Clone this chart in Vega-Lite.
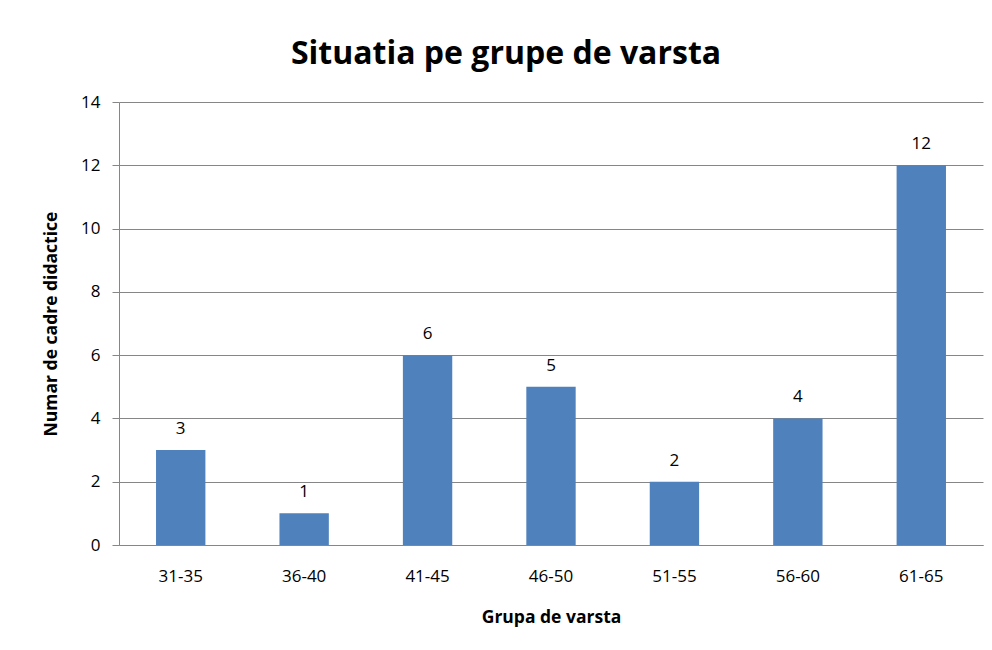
{
  "$schema": "https://vega.github.io/schema/vega-lite/v6.json",
  "autosize": {"type": "none"},
  "width": 864,
  "height": 443,
  "padding": {"left": 119, "top": 102, "right": 9, "bottom": 105},
  "background": "white",
  "title": {
    "text": "Situatia pe grupe de varsta",
    "font": "Open Sans",
    "fontSize": 32,
    "fontWeight": "bold",
    "color": "#000000",
    "anchor": "middle",
    "dx": -45,
    "offset": 22
  },
  "data": {
    "values": [
      {"grupa": "31-35", "numar": 3},
      {"grupa": "36-40", "numar": 1},
      {"grupa": "41-45", "numar": 6},
      {"grupa": "46-50", "numar": 5},
      {"grupa": "51-55", "numar": 2},
      {"grupa": "56-60", "numar": 4},
      {"grupa": "61-65", "numar": 12}
    ]
  },
  "config": {
    "view": {"stroke": null},
    "font": "Open Sans",
    "axis": {
      "labelFont": "Open Sans",
      "titleFont": "Open Sans",
      "labelFontSize": 17,
      "titleFontSize": 17.5,
      "titleFontWeight": "bold",
      "labelColor": "#000000",
      "titleColor": "#000000",
      "domainColor": "#868686",
      "tickColor": "#868686",
      "gridColor": "#868686"
    }
  },
  "layer": [
    {
      "mark": {"type": "bar", "color": "#4F81BD"},
      "encoding": {
        "x": {
          "field": "grupa",
          "type": "ordinal",
          "sort": null,
          "scale": {"paddingInner": 0.6, "paddingOuter": 0.3},
          "axis": {
            "title": "Grupa de varsta",
            "labelAngle": 0,
            "ticks": false,
            "labelPadding": 23,
            "titlePadding": 24,
            "domainWidth": 1
          }
        },
        "y": {
          "field": "numar",
          "type": "quantitative",
          "scale": {"domain": [0, 14]},
          "axis": {
            "title": "Numar de cadre didactice",
            "values": [0, 2, 4, 6, 8, 10, 12, 14],
            "tickSize": 7,
            "labelPadding": 12,
            "titlePadding": 20,
            "grid": true,
            "gridWidth": 1
          }
        }
      }
    },
    {
      "mark": {"type": "text", "baseline": "bottom", "dy": -12, "fontSize": 17, "font": "Open Sans", "color": "#000000"},
      "encoding": {
        "x": {"field": "grupa", "type": "ordinal", "sort": null},
        "y": {"field": "numar", "type": "quantitative"},
        "text": {"field": "numar", "type": "quantitative"}
      }
    }
  ]
}
